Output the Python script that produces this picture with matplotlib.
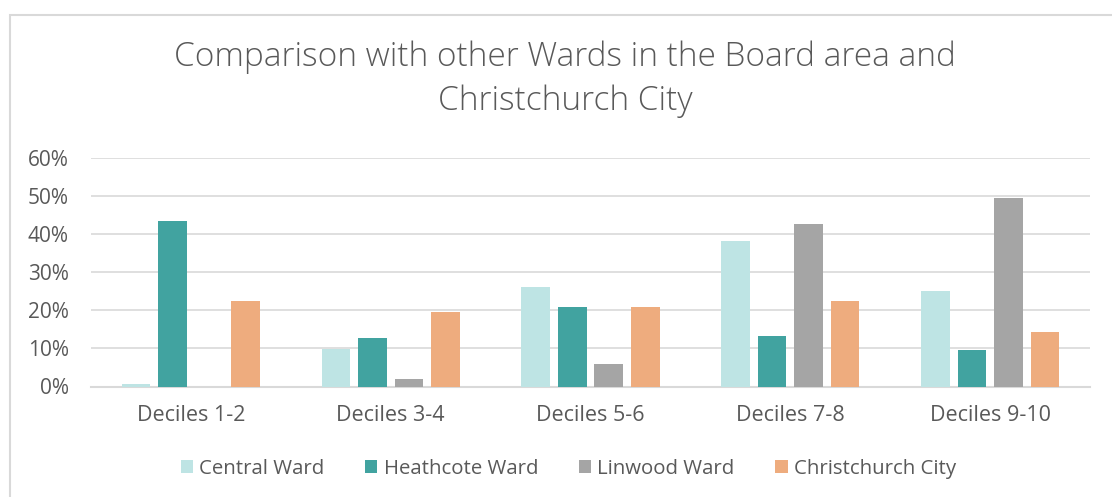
import numpy as np
import matplotlib
matplotlib.use('Agg')
import matplotlib.pyplot as plt
from matplotlib.patches import Rectangle

# Dados
categorias = ['Deciles 1-2', 'Deciles 3-4', 'Deciles 5-6', 'Deciles 7-8', 'Deciles 9-10']
central = [0.7, 9.8, 26.1, 38.2, 25.0]
heathcote = [43.5, 12.7, 20.8, 13.3, 9.5]
linwood = [0.0, 1.9, 5.8, 42.6, 49.6]
christchurch = [22.6, 19.5, 20.8, 22.4, 14.4]
series = ['Central Ward', 'Heathcote Ward', 'Linwood Ward', 'Christchurch City']
cores = ['#BEE4E4', '#41A3A0', '#A5A5A5', '#EEAC7E']
yticks = [0, 10, 20, 30, 40, 50, 60]

plt.rcParams['font.family'] = ['Open Sans', 'DejaVu Sans']
texto = '#595959'

fig = plt.figure(figsize=(11.12, 4.97), dpi=100)
ax = fig.add_axes([91 / 1112, 1 - 386.5 / 497, (1090 - 91) / 1112, (386.5 - 158.3) / 497])

# moldura do gráfico
fig.patches.append(Rectangle((9.5 / 1112, -0.1), 1.2, 1 - 14.5 / 497 + 0.1,
                             transform=fig.transFigure, fill=False,
                             edgecolor='#D9D9D9', linewidth=1.5))

x = np.arange(len(categorias))
largura = 0.143
passo = 0.183
for i, (vals, nome, cor) in enumerate(zip([central, heathcote, linwood, christchurch], series, cores)):
    ax.bar(x + (i - 1.5) * passo, vals, width=largura, color=cor, label=nome, zorder=3)

ax.set_xlim(-0.5, len(categorias) - 0.5)
ax.set_ylim(0, 60)
ax.set_yticks(yticks)
ax.set_yticklabels([f'{v}%' for v in yticks])
ax.set_xticks(x)
ax.set_xticklabels(categorias)
ax.grid(axis='y', color='#D9D9D9', linewidth=1.2, zorder=0)
for s in ['top', 'right', 'left']:
    ax.spines[s].set_visible(False)
ax.spines['bottom'].set_color('#D9D9D9')
ax.spines['bottom'].set_linewidth(1.5)
ax.tick_params(axis='both', length=0, colors=texto)
ax.tick_params(axis='x', pad=13, labelsize=15.5)
ax.tick_params(axis='y', pad=16, labelsize=15)

fig.text(0.508, 1 - 79 / 497, 'Comparison with other Wards in the Board area and\nChristchurch City',
         ha='center', va='center', fontsize=24, color=texto, linespacing=1.4, fontweight='light')

fig.legend(loc='center', bbox_to_anchor=(0.511, 1 - 469 / 497), ncol=4, frameon=False,
           fontsize=14.7, labelcolor=texto, handlelength=0.6, handleheight=0.6,
           handletextpad=0.3, columnspacing=2.0)

fig.savefig('out.png', dpi=100)
